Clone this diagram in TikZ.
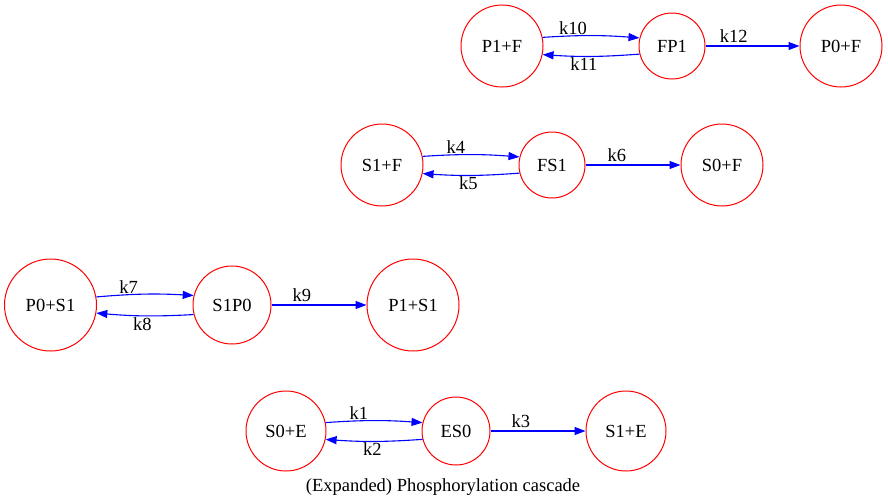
\documentclass[tikz,border=0pt]{standalone}
\usepackage{fontspec}
\setmainfont{Liberation Serif}
\usetikzlibrary{arrows.meta}
\begin{document}
\begin{tikzpicture}[x=1pt,y=-1pt,
  st/.style={circle,draw=red,line width=1pt,inner sep=0pt,font=\fontsize{18.5}{20}\selectfont},
  big/.style={st,minimum size=82pt},
  huge/.style={st,minimum size=92pt},
  small/.style={st,minimum size=66pt},
  mid/.style={st,minimum size=78pt},
  rx/.style={draw=blue,line width=1.1pt,-{Triangle[length=11pt,width=8pt]}},
  lb/.style={font=\fontsize{18.5}{20}\selectfont,inner sep=1pt},
  lbs/.style={lb,inner sep=2.5pt}]
\useasboundingbox (0,0) rectangle (888,501);
% row 1
\node[big] (pf) at (502,46) {P1+F};
\node[small] (fp) at (672,46) {FP1};
\node[big] (p0f) at (841,46) {P0+F};
\draw[rx] (pf.12) to[bend left=4] node[lb,pos=0.3,above] {k10} (fp.166);
\draw[rx] (fp.194) to[bend left=4] node[lb,pos=0.58,below] {k11} (pf.348);
\draw[rx] (fp) -- node[lbs,pos=0.3,above] {k12} (p0f);
% row 2
\node[big] (sf) at (382,165) {S1+F};
\node[small] (fs) at (552,165) {FS1};
\node[big] (s0f) at (722,165) {S0+F};
\draw[rx] (sf.12) to[bend left=4] node[lb,pos=0.33,above] {k4} (fs.166);
\draw[rx] (fs.194) to[bend left=4] node[lb,pos=0.53,below] {k5} (sf.348);
\draw[rx] (fs) -- node[lbs,pos=0.33,above] {k6} (s0f);
% row 3
\node[huge] (ps) at (50.5,305) {P0+S1};
\node[mid] (sp) at (232,305) {S1P0};
\node[huge] (p1s) at (413,305) {P1+S1};
\draw[rx] (ps.10) to[bend left=4] node[lb,pos=0.32,above] {k7} (sp.166);
\draw[rx] (sp.194) to[bend left=4] node[lb,pos=0.53,below] {k8} (ps.350);
\draw[rx] (sp) -- node[lbs,pos=0.32,above] {k9} (p1s);
% row 4
\node[st,minimum size=80pt] (se) at (286,431) {S0+E};
\node[st,minimum size=68pt] (es) at (456,431) {ES0};
\node[st,minimum size=80pt] (s1e) at (626,431) {S1+E};
\draw[rx] (se.12) to[bend left=4] node[lb,pos=0.33,above] {k1} (es.166);
\draw[rx] (es.194) to[bend left=4] node[lb,pos=0.52,below] {k2} (se.348);
\draw[rx] (es) -- node[lbs,pos=0.32,above] {k3} (s1e);
% caption
\node[lb] (cap) at (443,487) {(Expanded) Phosphorylation cascade};
\end{tikzpicture}
\end{document}
